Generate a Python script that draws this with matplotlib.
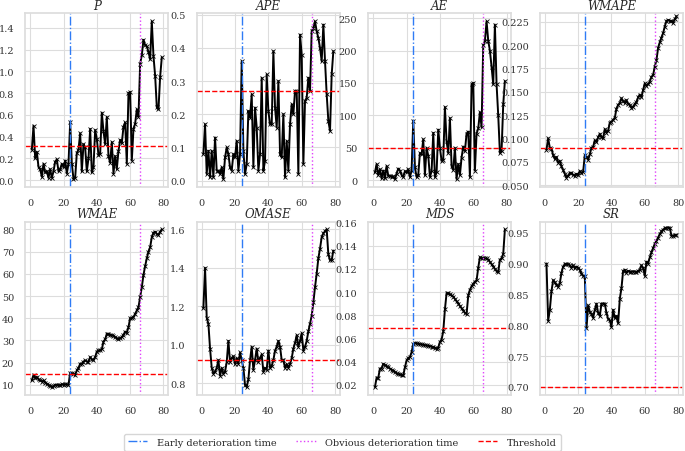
import matplotlib
matplotlib.use('Agg')
import matplotlib.pyplot as plt
from matplotlib.ticker import MultipleLocator
import seaborn as sns
import numpy as np

sns.set_theme(style='whitegrid')
plt.rcParams['font.family'] = ['DejaVu Serif']

steps = np.arange(1, 80)
early_time = 24
obvious_time = 66

titles = ['P', 'APE', 'AE', 'WMAPE', 'WMAE', 'OMASE', 'MDS', 'SR']

p_vals = [0.28, 0.50, 0.20, 0.26, 0.12, 0.10, 0.03, 0.15, 0.07, 0.08,
          0.02, 0.10, 0.02, 0.08, 0.17, 0.19, 0.08, 0.10, 0.15, 0.12,
          0.18, 0.06, 0.15, 0.53, 0.15, 0.01, 0.02, 0.25, 0.28, 0.43,
          0.08, 0.33, 0.30, 0.08, 0.20, 0.47, 0.07, 0.12, 0.46, 0.38,
          0.23, 0.24, 0.62, 0.45, 0.33, 0.58, 0.22, 0.16, 0.35, 0.06,
          0.22, 0.10, 0.27, 0.37, 0.34, 0.49, 0.53, 0.15, 0.80, 0.81,
          0.18, 0.47, 0.52, 0.65, 0.58, 1.07, 1.15, 1.29, 1.24, 1.23,
          1.18, 1.11, 1.46, 1.14, 0.96, 0.67, 0.65, 0.95, 1.13]

ape_vals = [0.08, 0.17, 0.02, 0.09, 0.01, 0.09, 0.01, 0.13, 0.03, 0.03,
            0.02, 0.04, 0.005, 0.07, 0.10, 0.08, 0.04, 0.03, 0.08, 0.07,
            0.12, 0.03, 0.08, 0.36, 0.09, 0.02, 0.05, 0.21, 0.19, 0.26,
            0.04, 0.22, 0.16, 0.03, 0.08, 0.31, 0.03, 0.06, 0.32, 0.21,
            0.17, 0.17, 0.39, 0.22, 0.16, 0.30, 0.08, 0.07, 0.20, 0.01,
            0.12, 0.03, 0.17, 0.23, 0.20, 0.27, 0.27, 0.02, 0.44, 0.38,
            0.05, 0.24, 0.25, 0.31, 0.27, 0.45, 0.46, 0.48, 0.45, 0.43,
            0.40, 0.36, 0.47, 0.36, 0.26, 0.18, 0.15, 0.32, 0.39]

ae_vals = [12, 25, 8, 17, 3, 15, 3, 22, 7, 7,
           5, 6, 2, 10, 18, 15, 8, 5, 14, 12,
           17, 5, 15, 92, 20, 5, 8, 42, 40, 63,
           8, 50, 38, 5, 14, 73, 5, 12, 78, 50,
           30, 32, 113, 60, 42, 96, 22, 16, 50, 2,
           25, 8, 35, 52, 45, 72, 75, 5, 148, 150,
           15, 72, 80, 105, 82, 208, 215, 245, 215, 200,
           175, 148, 240, 148, 100, 42, 45, 117, 153]

wmape_vals = [0.088, 0.100, 0.090, 0.089, 0.082, 0.078, 0.080, 0.074, 0.076, 0.070,
              0.066, 0.062, 0.058, 0.060, 0.063, 0.063, 0.061, 0.060, 0.062, 0.061,
              0.065, 0.063, 0.064, 0.082, 0.080, 0.077, 0.083, 0.090, 0.091, 0.098,
              0.096, 0.101, 0.105, 0.101, 0.100, 0.110, 0.106, 0.108, 0.117, 0.118,
              0.120, 0.122, 0.132, 0.136, 0.138, 0.143, 0.140, 0.138, 0.141, 0.137,
              0.136, 0.133, 0.134, 0.137, 0.139, 0.144, 0.147, 0.144, 0.152, 0.159,
              0.156, 0.158, 0.161, 0.166, 0.168, 0.177, 0.184, 0.197, 0.203, 0.208,
              0.213, 0.220, 0.226, 0.227, 0.226, 0.226, 0.224, 0.228, 0.231]

wmae_vals = [12, 14.5, 13, 13.5, 12.5, 12, 11.5, 12, 11, 10.5,
             10, 9.5, 9, 9.5, 10, 10, 9.8, 9.8, 10.2, 10,
             10.3, 10.2, 10, 15.5, 15.2, 15, 14.5, 16.5, 17.5, 19.5,
             19.5, 20.5, 21, 20.5, 20.5, 22.5, 21.5, 21, 22.5, 25,
             25.5, 25.5, 26, 29.5, 30.5, 33, 33, 32.5, 32.5, 32,
             31.5, 31, 30.5, 31, 31.5, 32.5, 34, 33.5, 36, 40,
             40, 40.5, 42, 43.5, 45, 49.5, 54, 59.5, 63.5, 67,
             70, 72, 76.5, 78.5, 79, 78, 77.5, 79, 80]

omase_vals = [1.19, 1.40, 1.14, 1.11, 0.98, 0.88, 0.85, 0.86, 0.88, 0.92,
              0.84, 0.88, 0.85, 0.86, 0.91, 1.02, 0.91, 0.93, 0.94, 0.90,
              0.93, 0.90, 0.96, 0.92, 0.88, 0.79, 0.78, 0.82, 0.92, 0.99,
              0.87, 0.92, 0.98, 0.91, 0.93, 0.95, 0.86, 0.88, 0.87, 0.97,
              0.88, 0.89, 0.92, 0.97, 0.99, 1.02, 0.99, 0.92, 0.92, 0.88,
              0.90, 0.88, 0.90, 0.93, 0.98, 1.01, 1.05, 0.99, 1.02, 1.06,
              0.97, 0.99, 1.02, 1.07, 1.11, 1.15, 1.22, 1.30, 1.37, 1.45,
              1.50, 1.56, 1.58, 1.59, 1.60, 1.47, 1.44, 1.44, 1.49]

mds_vals = [0.018, 0.026, 0.026, 0.034, 0.034, 0.038, 0.037, 0.036, 0.035, 0.034,
            0.033, 0.032, 0.031, 0.030, 0.029, 0.029, 0.028, 0.028, 0.035, 0.041,
            0.043, 0.044, 0.048, 0.055, 0.056, 0.0557, 0.0554, 0.0551, 0.0548, 0.0545,
            0.0542, 0.0539, 0.0536, 0.0533, 0.053, 0.0525, 0.052, 0.051, 0.052, 0.057,
            0.059, 0.066, 0.085, 0.099, 0.099, 0.098, 0.097, 0.096, 0.094, 0.092,
            0.090, 0.088, 0.086, 0.084, 0.082, 0.081, 0.097, 0.102, 0.105, 0.107,
            0.109, 0.110, 0.121, 0.130, 0.129, 0.129, 0.129, 0.129, 0.128, 0.126,
            0.124, 0.122, 0.120, 0.118, 0.117, 0.128, 0.129, 0.133, 0.154]

sr_vals = [0.900, 0.807, 0.825, 0.855, 0.873, 0.870, 0.865, 0.862, 0.868, 0.885,
           0.895, 0.899, 0.899, 0.899, 0.897, 0.893, 0.897, 0.892, 0.895, 0.893,
           0.890, 0.883, 0.880, 0.879, 0.795, 0.832, 0.822, 0.818, 0.812, 0.825,
           0.835, 0.820, 0.815, 0.835, 0.835, 0.835, 0.820, 0.810, 0.808, 0.797,
           0.825, 0.812, 0.815, 0.803, 0.843, 0.860, 0.888, 0.890, 0.885, 0.888,
           0.887, 0.887, 0.887, 0.887, 0.886, 0.888, 0.890, 0.897, 0.893, 0.880,
           0.903, 0.900, 0.910, 0.918, 0.925, 0.932, 0.937, 0.942, 0.948, 0.952,
           0.955, 0.957, 0.958, 0.958, 0.958, 0.945, 0.945, 0.946, 0.946]

thresholds = [0.31, 0.27, 49, 0.090, 15, 0.92, 0.069, 0.70]
ytick_steps = [0.2, 0.1, 50, 0.025, 10, 0.2, 0.02, 0.05]

series = [p_vals, ape_vals, ae_vals, wmape_vals, wmae_vals, omase_vals, mds_vals, sr_vals]

fig, axes = plt.subplots(2, 4, figsize=(6.85, 4.52), dpi=100)
fig.subplots_adjust(left=0.037, right=0.997, top=0.968, bottom=0.124,
                    wspace=0.2, hspace=0.2)

for ax, title, vals, thr, stp in zip(axes.flat, titles, series, thresholds, ytick_steps):
    ax.plot(steps, vals, color='black', lw=1.4, marker='x', ms=2.5, mew=0.6)
    l1 = ax.axvline(early_time, color='#2f7bf5', ls='-.', lw=1.0)
    l2 = ax.axvline(obvious_time, color='#e040fb', ls=':', lw=1.0)
    l3 = ax.axhline(thr, color='red', ls='--', lw=1.0)
    ax.set_title(title, fontsize=8.5, style='italic', pad=3)
    ax.set_xticks([0, 20, 40, 60, 80])
    ax.yaxis.set_major_locator(MultipleLocator(stp))
    ax.tick_params(labelsize=7, pad=2, colors='#333333')
    ax.grid(True, color='#dddddd', lw=0.8)
    for s in ax.spines.values():
        s.set_color('#dddddd')

axes[0, 3].set_ylim(0.048, 0.234)
axes[1, 3].set_ylim(0.687, 0.968)

fig.legend([l1, l2, l3],
           ['Early deterioration time', 'Obvious deterioration time', 'Threshold'],
           loc='lower center', bbox_to_anchor=(0.5, -0.01), ncol=3, fontsize=7,
           frameon=True, handlelength=2.0, handletextpad=1.0, columnspacing=2.0)

plt.savefig('out.png', dpi=100)
